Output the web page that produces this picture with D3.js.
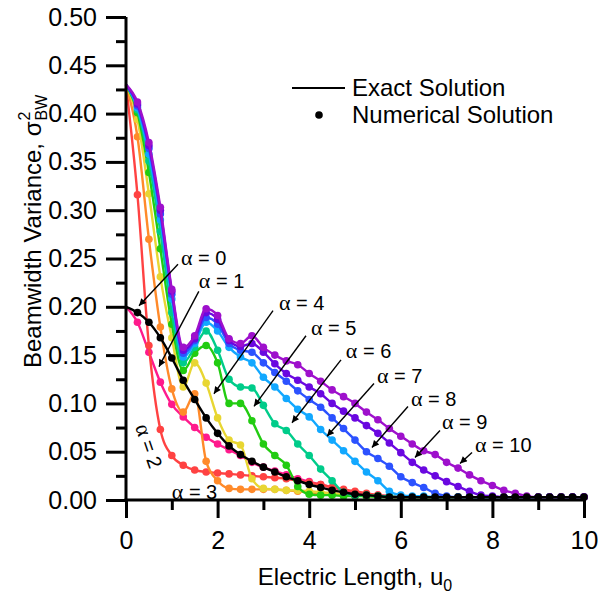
<!DOCTYPE html>
<html>
<head>
<meta charset="utf-8">
<script src="https://cdn.jsdelivr.net/npm/d3@7"></script>
<style>
  body { margin: 0; background: #fff; }
  svg { display: block; font-family: 'Liberation Sans', Arial, sans-serif; }
</style>
</head>
<body>
<div id="chart"></div>
<script>
// electric length samples
var uValues = [0, 0.25, 0.5, 0.75, 1, 1.25, 1.5, 1.75, 2, 2.25, 2.5, 2.75, 3, 3.25, 3.5, 3.75,
  4, 4.25, 4.5, 4.75, 5, 5.25, 5.5, 5.75, 6, 6.25, 6.5, 6.75, 7, 7.25, 7.5, 7.75,
  8, 8.25, 8.5, 8.75, 9, 9.25, 9.5, 9.75, 10]

// beamwidth variance for each alpha
var alpha0 = [0.200, 0.194, 0.184, 0.168, 0.147, 0.124, 0.104, 0.085, 0.069, 0.056, 0.047, 0.040, 0.034, 0.029, 0.024, 0.020,
  0.016, 0.013, 0.010, 0.008, 0.006, 0.005, 0.004, 0.003, 0.003, 0.003, 0.003, 0.003, 0.003, 0.003, 0.003, 0.003,
  0.003, 0.003, 0.003, 0.003, 0.003, 0.003, 0.003, 0.003, 0.003]
var alpha1 = [0.200, 0.184, 0.153, 0.122, 0.099, 0.086, 0.075, 0.065, 0.058, 0.052, 0.046, 0.039, 0.034, 0.030, 0.026, 0.022,
  0.019, 0.016, 0.013, 0.010, 0.008, 0.006, 0.005, 0.004, 0.003, 0.003, 0.003, 0.003, 0.003, 0.003, 0.003, 0.003,
  0.003, 0.003, 0.003, 0.003, 0.003, 0.003, 0.003, 0.003, 0.003]
var alpha2 = [0.430, 0.316, 0.160, 0.073, 0.046, 0.036, 0.031, 0.029, 0.028, 0.027, 0.026, 0.025, 0.024, 0.023, 0.022, 0.020,
  0.018, 0.016, 0.013, 0.011, 0.009, 0.007, 0.005, 0.004, 0.003, 0.003, 0.003, 0.003, 0.003, 0.003, 0.003, 0.003,
  0.003, 0.003, 0.003, 0.003, 0.003, 0.003, 0.003, 0.003, 0.003]
var alpha3 = [0.430, 0.376, 0.270, 0.179, 0.115, 0.091, 0.110, 0.040, 0.020, 0.012, 0.011, 0.011, 0.011, 0.011, 0.010, 0.009,
  0.008, 0.007, 0.006, 0.005, 0.005, 0.004, 0.004, 0.003, 0.003, 0.003, 0.003, 0.003, 0.003, 0.003, 0.003, 0.003,
  0.003, 0.003, 0.003, 0.003, 0.003, 0.003, 0.003, 0.003, 0.003]
var alpha4 = [0.430, 0.394, 0.317, 0.231, 0.168, 0.117, 0.142, 0.121, 0.085, 0.062, 0.057, 0.022, 0.012, 0.011, 0.010, 0.010,
  0.009, 0.008, 0.007, 0.006, 0.005, 0.004, 0.004, 0.003, 0.003, 0.003, 0.003, 0.003, 0.003, 0.003, 0.003, 0.003,
  0.003, 0.003, 0.003, 0.003, 0.003, 0.003, 0.003, 0.003, 0.003]
var alpha5 = [0.430, 0.401, 0.339, 0.260, 0.182, 0.134, 0.152, 0.160, 0.142, 0.100, 0.100, 0.082, 0.058, 0.046, 0.036, 0.014,
  0.006, 0.005, 0.005, 0.004, 0.004, 0.004, 0.003, 0.003, 0.003, 0.003, 0.003, 0.003, 0.003, 0.003, 0.003, 0.003,
  0.003, 0.003, 0.003, 0.003, 0.003, 0.003, 0.003, 0.003, 0.003]
var alpha6 = [0.430, 0.404, 0.351, 0.278, 0.194, 0.142, 0.158, 0.175, 0.155, 0.125, 0.117, 0.116, 0.098, 0.079, 0.072, 0.058,
  0.046, 0.032, 0.020, 0.008, 0.005, 0.005, 0.004, 0.004, 0.003, 0.003, 0.003, 0.003, 0.003, 0.003, 0.003, 0.003,
  0.003, 0.003, 0.003, 0.003, 0.003, 0.003, 0.003, 0.003, 0.003]
var alpha7 = [0.430, 0.406, 0.358, 0.290, 0.208, 0.148, 0.162, 0.184, 0.175, 0.158, 0.148, 0.142, 0.127, 0.117, 0.105, 0.094,
  0.086, 0.073, 0.062, 0.051, 0.040, 0.029, 0.020, 0.009, 0.005, 0.004, 0.004, 0.003, 0.003, 0.003, 0.003, 0.003,
  0.003, 0.003, 0.003, 0.003, 0.003, 0.003, 0.003, 0.003, 0.003]
var alpha8 = [0.430, 0.408, 0.364, 0.296, 0.213, 0.152, 0.165, 0.189, 0.182, 0.162, 0.155, 0.153, 0.142, 0.132, 0.123, 0.113,
  0.104, 0.096, 0.085, 0.074, 0.062, 0.050, 0.043, 0.035, 0.024, 0.018, 0.013, 0.007, 0.004, 0.003, 0.003, 0.003,
  0.003, 0.003, 0.003, 0.003, 0.003, 0.003, 0.003, 0.003, 0.003]
var alpha9 = [0.430, 0.410, 0.367, 0.300, 0.216, 0.155, 0.167, 0.194, 0.187, 0.165, 0.159, 0.162, 0.153, 0.141, 0.131, 0.124,
  0.117, 0.110, 0.100, 0.092, 0.085, 0.077, 0.069, 0.059, 0.049, 0.039, 0.031, 0.025, 0.019, 0.014, 0.009, 0.005,
  0.004, 0.003, 0.003, 0.003, 0.003, 0.003, 0.003, 0.003, 0.003]
var alpha10 = [0.430, 0.412, 0.370, 0.303, 0.218, 0.158, 0.170, 0.198, 0.191, 0.167, 0.162, 0.170, 0.158, 0.150, 0.144, 0.140,
  0.131, 0.123, 0.114, 0.107, 0.100, 0.091, 0.083, 0.074, 0.066, 0.058, 0.051, 0.047, 0.039, 0.033, 0.026, 0.020,
  0.015, 0.010, 0.007, 0.004, 0.003, 0.003, 0.003, 0.003, 0.003]

var seriesColors = ['#000000', '#ff1a8c', '#ff4242', '#ff8a2a', '#e8d632', '#22cc11',
  '#00cc8a', '#12a8ff', '#2c52ff', '#6a08e0', '#9e10cc']

var yTicks = [0, 0.05, 0.1, 0.15, 0.2, 0.25, 0.3, 0.35, 0.4, 0.45, 0.5]
var xTicks = [0, 2, 4, 6, 8, 10]

// annotation labels: text anchor and arrow (start -> tip), in data units
var annotations = [
  { a: '0', tu: 1.20, tv: 0.243, au: 1.135, av: 0.244, bu: 0.284, bv: 0.201 },
  { a: '1', tu: 1.59, tv: 0.219, au: 1.59, av: 0.216, bu: 0.72, bv: 0.138 },
  { a: '4', tu: 3.34, tv: 0.197, au: 3.21, av: 0.196, bu: 1.92, bv: 0.110 },
  { a: '5', tu: 4.04, tv: 0.171, au: 3.93, av: 0.170, bu: 2.795, bv: 0.097 },
  { a: '6', tu: 4.80, tv: 0.1475, au: 4.694, av: 0.145, bu: 3.624, bv: 0.080 },
  { a: '7', tu: 5.48, tv: 0.1216, au: 5.415, av: 0.1206, bu: 4.389, bv: 0.066 },
  { a: '8', tu: 6.22, tv: 0.0978, au: 6.157, av: 0.0968, bu: 5.371, bv: 0.0543 },
  { a: '9', tu: 6.90, tv: 0.073, au: 6.856, av: 0.0719, bu: 6.31, bv: 0.044 },
  { a: '10', tu: 7.62, tv: 0.0502, au: 7.555, av: 0.0492, bu: 7.293, bv: 0.0378 }
]

var series = [alpha0, alpha1, alpha2, alpha3, alpha4, alpha5, alpha6, alpha7, alpha8, alpha9, alpha10]
  .map(function (vals, i) {
    return {
      alpha: i,
      color: seriesColors[i],
      points: vals.map(function (v, j) { return { u: uValues[j], v: v } })
    }
  })

var width = 598
var height = 607
var margin = { top: 17, right: 14, bottom: 107, left: 126 }

var svg = d3.select('#chart').append('svg')
  .attr('width', width)
  .attr('height', height)

var x = d3.scaleLinear().domain([0, 10]).range([margin.left, width - margin.right])
var y = d3.scaleLinear().domain([0, 0.5]).range([height - margin.bottom, margin.top])

var defs = svg.append('defs')
defs.append('marker')
  .attr('id', 'arrow')
  .attr('viewBox', '0 0 10 10')
  .attr('refX', 10)
  .attr('refY', 5)
  .attr('markerWidth', 10)
  .attr('markerHeight', 7)
  .attr('markerUnits', 'userSpaceOnUse')
  .attr('orient', 'auto')
  .append('path')
  .attr('d', 'M0,0L10,5L0,10z')
  .attr('fill', '#000')

// curves
var line = d3.line()
  .x(function (d) { return x(d.u) })
  .y(function (d) { return y(d.v) })
  .curve(d3.curveMonotoneX)

var drawOrder = [1, 2, 3, 4, 5, 6, 7, 8, 9, 10, 0]
var g = svg.append('g')
drawOrder.forEach(function (i) {
  var s = series[i]
  var sg = g.append('g')
  sg.append('path')
    .datum(s.points)
    .attr('d', line)
    .attr('fill', 'none')
    .attr('stroke', s.color)
    .attr('stroke-width', 2.4)
  sg.selectAll('circle')
    .data(s.points.slice(1))
    .enter()
    .append('circle')
    .attr('cx', function (d) { return x(d.u) })
    .attr('cy', function (d) { return y(d.v) })
    .attr('r', 3.8)
    .attr('fill', s.color)
})

// axes
var yAxis = d3.axisLeft(y).tickValues(yTicks).tickSize(20).tickPadding(9)
  .tickFormat(d3.format('.2f'))
var yMinor = d3.axisLeft(y).tickValues(d3.range(0.025, 0.5, 0.05)).tickSize(10).tickFormat('')
var xAxis = d3.axisBottom(x).tickValues(xTicks).tickSize(18).tickPadding(13)
var xMinor = d3.axisBottom(x).tickValues([1, 3, 5, 7, 9]).tickSize(10).tickFormat('')

function styleAxis (sel) {
  sel.select('.domain').attr('stroke', '#000').attr('stroke-width', 3)
  sel.selectAll('.tick line').attr('stroke', '#000').attr('stroke-width', 3)
  sel.selectAll('text').attr('fill', '#000').style('font-size', '25px')
    .style('font-family', "'Liberation Sans', Arial, sans-serif")
}

svg.append('g').attr('transform', 'translate(' + margin.left + ',0)').call(yMinor).call(styleAxis)
  .select('.domain').remove()
svg.append('g').attr('transform', 'translate(0,' + y(0) + ')').call(xMinor).call(styleAxis)
  .select('.domain').remove()
svg.append('g').attr('transform', 'translate(' + margin.left + ',0)').call(yAxis).call(styleAxis)
  .select('.domain').attr('d', 'M0,' + y(0.5) + 'V' + (y(0) + 1.5))
svg.append('g').attr('transform', 'translate(0,' + y(0) + ')').call(xAxis).call(styleAxis)
  .select('.domain').attr('d', 'M' + (x(0) - 1.5) + ',0H' + x(10))

// axis titles
var xTitle = svg.append('text')
  .attr('x', (x(0) + x(10)) / 2)
  .attr('y', 585)
  .attr('text-anchor', 'middle')
  .style('font-size', '24px')
xTitle.append('tspan').text('Electric Length, u')
xTitle.append('tspan').attr('dy', 6).style('font-size', '16px').text('0')

var yTitleG = svg.append('g').attr('transform', 'translate(41,368) rotate(-90)')
var yMain = yTitleG.append('text').attr('x', 0).attr('y', 0).style('font-size', '24px')
  .text('Beamwidth Variance, \u03c3')
var yLen = yMain.node().getComputedTextLength()
yTitleG.append('text').attr('x', yLen + 1).attr('y', -11).style('font-size', '16px').text('2')
yTitleG.append('text').attr('x', yLen + 1).attr('y', 6).style('font-size', '16px').text('BW')

// legend
svg.append('line')
  .attr('x1', 292).attr('x2', 345).attr('y1', 88).attr('y2', 88)
  .attr('stroke', '#000').attr('stroke-width', 2.2)
svg.append('text').attr('x', 352).attr('y', 96).style('font-size', '24px').text('Exact Solution')
svg.append('circle').attr('cx', 319).attr('cy', 115).attr('r', 3.8).attr('fill', '#000')
svg.append('text').attr('x', 352).attr('y', 123).style('font-size', '24px').text('Numerical Solution')

// annotations
function alphaLabel (sel, a) {
  sel.append('tspan').style('font-family', "'Liberation Serif', 'Times New Roman', serif")
    .style('font-size', '22px').text('\u03b1')
  sel.append('tspan').text(' = ' + a)
}

var ann = svg.append('g').style('font-size', '20px')
annotations.forEach(function (d) {
  ann.append('line')
    .attr('x1', x(d.au)).attr('y1', y(d.av))
    .attr('x2', x(d.bu)).attr('y2', y(d.bv))
    .attr('stroke', '#000').attr('stroke-width', 1.4)
    .attr('marker-end', 'url(#arrow)')
  ann.append('text').attr('x', x(d.tu)).attr('y', y(d.tv)).call(alphaLabel, d.a)
})

ann.append('text')
  .attr('transform', 'translate(' + x(0.5) + ',' + y(0.056) + ') rotate(71)')
  .attr('text-anchor', 'middle')
  .attr('dy', 7)
  .call(alphaLabel, '2')
ann.append('text').attr('x', x(1.0)).attr('y', y(0.001)).call(alphaLabel, '3')
</script>
</body>
</html>
